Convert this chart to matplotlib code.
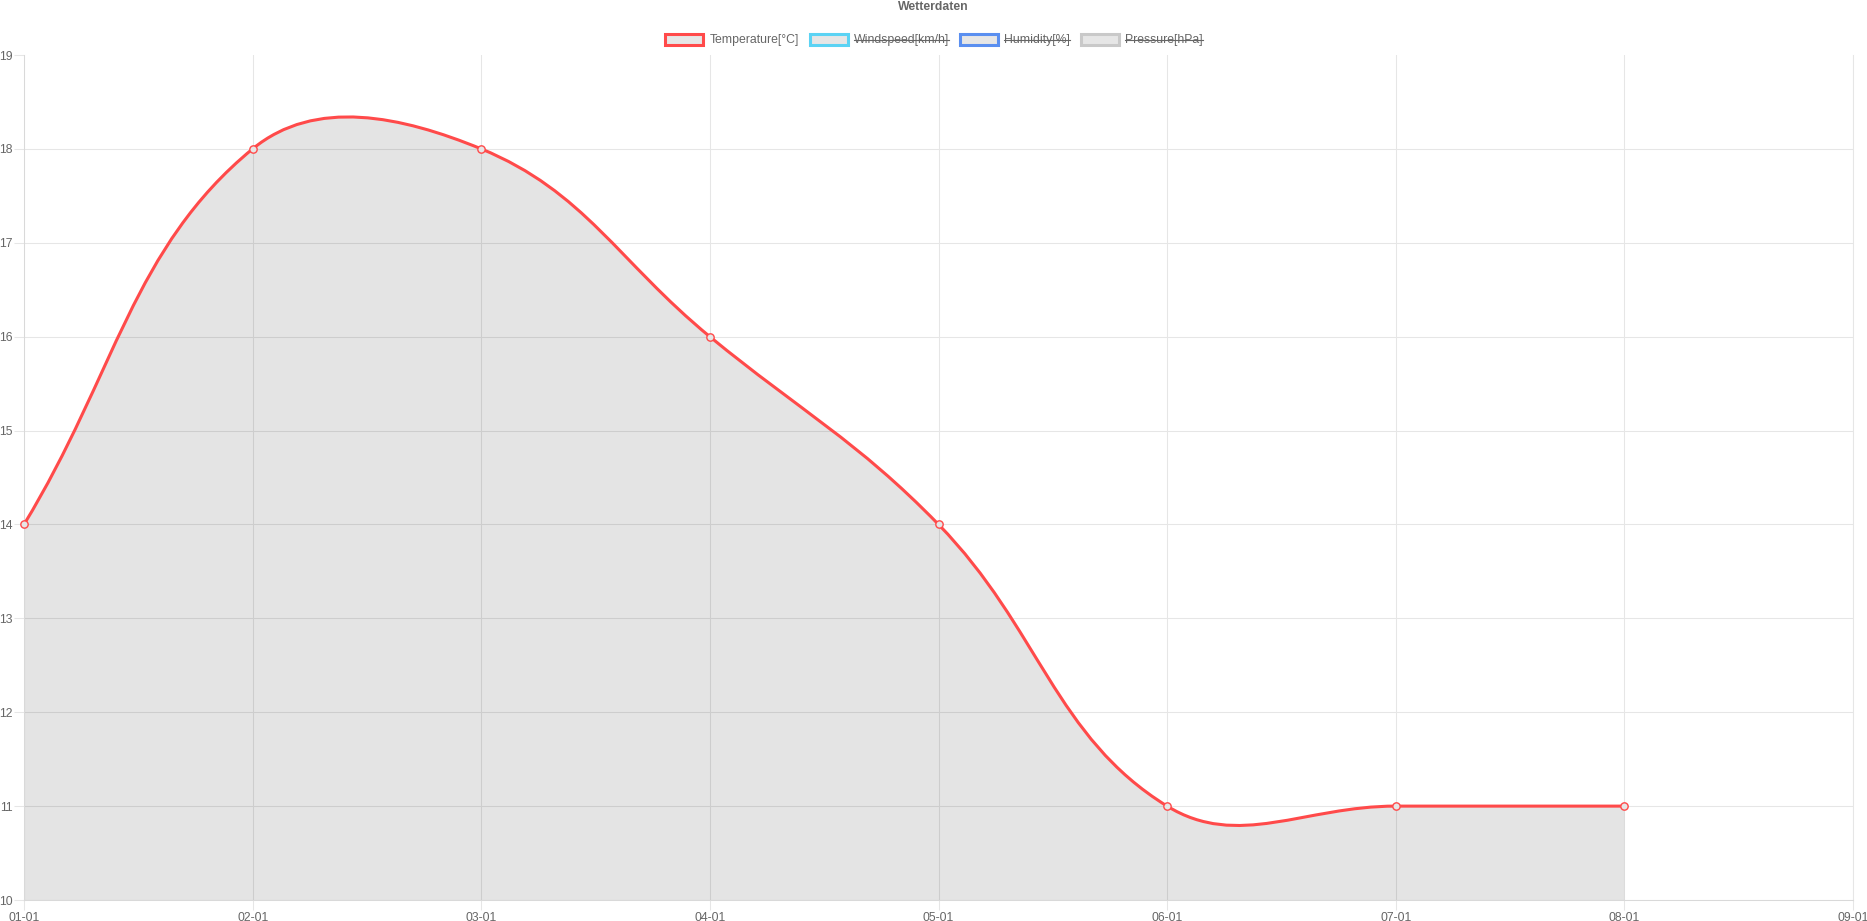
import numpy as np
import matplotlib
matplotlib.use("Agg")
import matplotlib.pyplot as plt
import matplotlib.patches as mpatches
from matplotlib.path import Path

plt.rcParams['font.family'] = ['Liberation Sans', 'DejaVu Sans']

# data
months = ['01-01', '02-01', '03-01', '04-01', '05-01', '06-01', '07-01', '08-01', '09-01']
temperature = [14, 18, 18, 16, 14, 11, 11, 11]
series_labels = ['Temperature[°C]', 'Windspeed[km/h]', 'Humidity[%]', 'Pressure[hPa]']
series_colors = ['#ff4a4a', '#5bd3f4', '#5a8ff0', '#c9c9c9']
series_hidden = [False, True, True, True]

W, H = 1867, 921
TXT = '#666666'
GRID = '#e6e6e6'
FS = 8.8  # ~12px

fig = plt.figure(figsize=(W / 100, H / 100), dpi=100)
ax = fig.add_axes([24 / W, 1 - 900 / H, (1853 - 24) / W, (900 - 55) / H])

xs = np.arange(len(temperature))
ax.set_xlim(0, len(months) - 1)
ax.set_ylim(10, 19)
ax.set_xticks(np.arange(len(months)))
ax.set_xticklabels(months)
ax.set_yticks(np.arange(10, 20))

ax.spines['top'].set_visible(False)
for s in ['left', 'bottom', 'right']:
    ax.spines[s].set_color('#d9d9d9')
    ax.spines[s].set_linewidth(0.75)
ax.spines['right'].set_color(GRID)

ax.grid(True, color=GRID, linewidth=0.75, zorder=0)
ax.set_axisbelow(True)
ax.tick_params(axis='both', colors=GRID, labelcolor=TXT, labelsize=FS,
               length=7.2, width=0.75, pad=1.2)
ax.yaxis.get_gridlines()[-1].set_visible(False)

# chart.js style spline (tension 0.4) computed in pixel space
tension = 0.4
pts = ax.transData.transform(np.column_stack([xs, temperature]))
n = len(pts)

def controls(i):
    prev = pts[max(i - 1, 0)]
    cur = pts[i]
    nxt = pts[min(i + 1, n - 1)]
    d01 = np.hypot(*(cur - prev))
    d12 = np.hypot(*(nxt - cur))
    tot = d01 + d12
    s01 = d01 / tot if tot else 0
    s12 = d12 / tot if tot else 0
    return cur - tension * s01 * (nxt - prev), cur + tension * s12 * (nxt - prev)

verts = [pts[0]]
codes = [Path.MOVETO]
for i in range(n - 1):
    verts += [controls(i)[1], controls(i + 1)[0], pts[i + 1]]
    codes += [Path.CURVE4] * 3
inv = ax.transData.inverted()
curve = inv.transform(np.array(verts))

line_path = Path(curve, codes)
fill_verts = np.vstack([curve, [[xs[-1], 10], [xs[0], 10], [xs[0], 10]]])
fill_codes = codes + [Path.LINETO, Path.LINETO, Path.CLOSEPOLY]
fill_path = Path(fill_verts, fill_codes)

ax.add_patch(mpatches.PathPatch(fill_path, facecolor=(0, 0, 0, 0.105), edgecolor='none', zorder=2))
ax.add_patch(mpatches.PathPatch(line_path, facecolor='none', edgecolor=series_colors[0],
                                linewidth=2.2, zorder=3, capstyle='round'))
ax.scatter(xs, temperature, s=28, facecolor=(0.9, 0.9, 0.9, 1), edgecolor=series_colors[0],
           linewidth=1.0, zorder=4, clip_on=False)

# title
fig.text(933 / W, 1 - 7 / H, 'Wetterdaten', ha='center', va='center',
         fontsize=FS, fontweight='bold', color=TXT)

# legend, chart.js style
renderer = fig.canvas.get_renderer()
box_w, box_h, gap, spacing = 40, 11, 5, 10
widths = []
for lab in series_labels:
    t = fig.text(0, 0, lab, fontsize=FS)
    widths.append(t.get_window_extent(renderer).width)
    t.remove()
total = sum(box_w + gap + w for w in widths) + spacing * (len(widths) - 1)
x = W / 2 - total / 2
yc = 40
for lab, col, hid, w in zip(series_labels, series_colors, series_hidden, widths):
    fig.patches.append(mpatches.Rectangle(((x + 1) / W, 1 - (yc + box_h / 2) / H), (box_w - 2) / W, box_h / H,
                                          transform=fig.transFigure, facecolor='#e6e6e6',
                                          edgecolor=col, linewidth=2.2))
    tx = x + box_w + gap
    fig.text(tx / W, 1 - yc / H, lab, fontsize=FS, color=TXT, ha='left', va='center')
    if hid:
        fig.add_artist(plt.Line2D([tx / W, (tx + w) / W], [1 - yc / H, 1 - yc / H],
                                  transform=fig.transFigure, color=TXT, linewidth=0.8))
    x = tx + w + spacing

fig.savefig('out.png', dpi=100)
